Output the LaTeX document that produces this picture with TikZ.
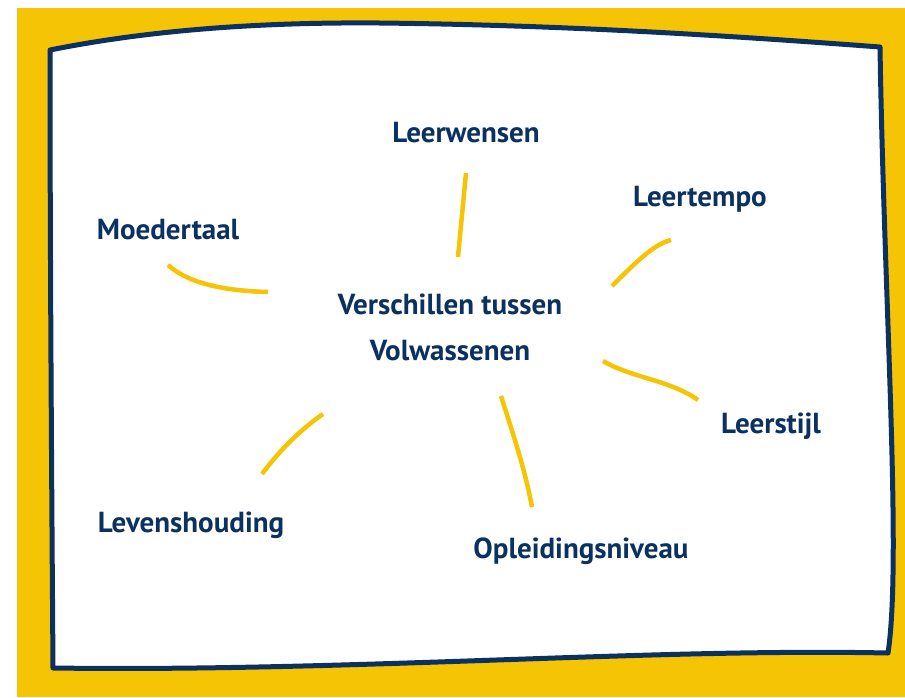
\documentclass[tikz,border=0pt]{standalone}
\usepackage{xcolor}
\usepackage{fontspec}
\setmainfont{PT Sans}
\usepackage{tikz}
\usetikzlibrary{positioning, calc}
\definecolor{mapyellow}{HTML}{F5C404}
\definecolor{mapnavy}{HTML}{0B3161}

\begin{document}
\begin{tikzpicture}[
    x=1pt, y=-1pt,
    topic/.style={text=mapnavy, font=\fontsize{29}{46}\selectfont\bfseries, inner sep=0pt},
    spoke/.style={draw=mapyellow, line width=4.5pt, line cap=butt},
    frame/.style={draw=mapnavy, fill=white, line width=5pt, line join=round}
]
\useasboundingbox (0,0) rectangle (905,697);
% Background
\fill[mapyellow] (17,8) rectangle (905,697);
\path[frame] (50,50) .. controls (150,30) and (260,22) .. (380,23)
    .. controls (560,25) and (720,35) .. (880,47)
    .. controls (884,300) and (902,560) .. (888,653)
    .. controls (650,648) and (350,672) .. (53,668)
    .. controls (51,400) and (50,200) .. (50,50) -- cycle;

% Centre
\node[topic, align=center] (centre) at (450,327) {Verschillen tussen\\Volwassenen};

% Topics
\node[topic] (wensen) at (466,133) {Leerwensen};
\node[topic] (tempo) at (700,199) {Leertempo};
\node[topic] (moeder) at (168,230) {Moedertaal};
\node[topic] (stijl) at (771,426) {Leerstijl};
\node[topic] (niveau) at (581,551) {Opleidingsniveau};
\node[topic] (leven) at (191,525) {Levenshouding};

% Spokes
\coordinate (wensenA) at (466,173);
\coordinate (wensenB) at (458,257);
\coordinate (tempoA) at (612,286);
\coordinate (tempoB) at (671,240);
\coordinate (stijlA) at (603,361);
\coordinate (stijlB) at (698,400);
\coordinate (niveauA) at (501,396);
\coordinate (niveauB) at (532,507);
\coordinate (levenA) at (323,414);
\coordinate (levenB) at (262,474);
\coordinate (moederA) at (168,265);
\coordinate (moederB) at (268,292);

\draw[spoke] (wensenA) -- (wensenB);
\draw[spoke] (tempoA) .. controls (640,258) and (655,244) .. (tempoB);
\draw[spoke] (stijlA) .. controls (632,378) and (670,380) .. (stijlB);
\draw[spoke] (niveauA) .. controls (515,440) and (525,470) .. (niveauB);
\draw[spoke] (levenA) .. controls (300,430) and (280,450) .. (levenB);
\draw[spoke] (moederA) .. controls (190,285) and (230,291) .. (moederB);

\end{tikzpicture}
\end{document}
